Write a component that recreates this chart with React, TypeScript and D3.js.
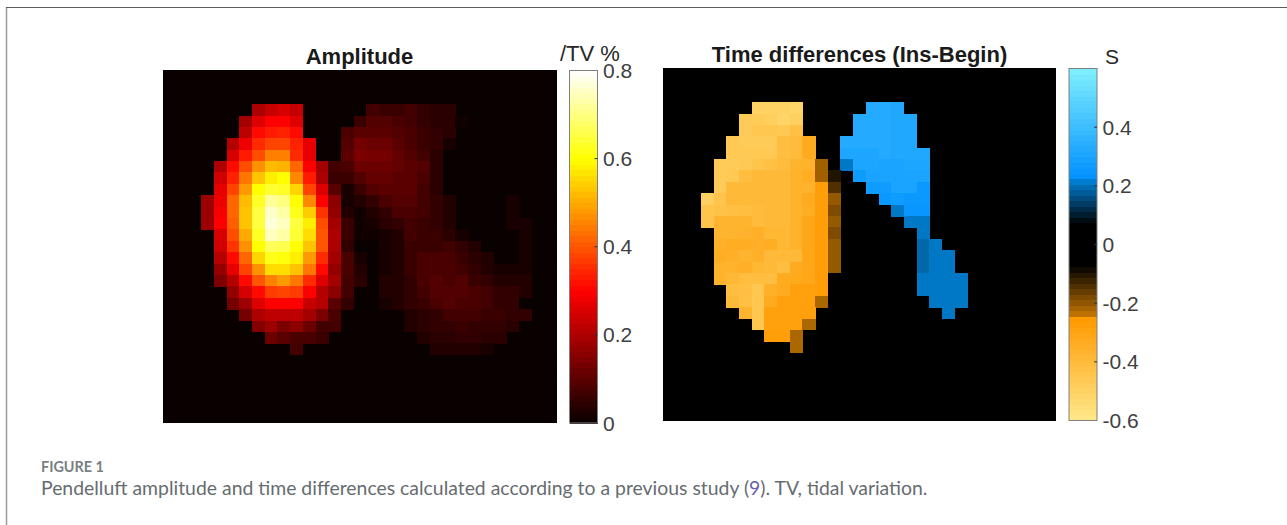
import React from 'react';
import * as d3 from 'd3';

// values, in hundredths; first number of a row is the column it starts at
const amplitudeRows: Record<number, number[]> = {
  3: [7, 20, 23, 25, 23, 0, 0, 0, 0, 0, 7, 6, 6, 7, 5, 4, 4],
  4: [6, 19, 26, 30, 30, 26, 0, 0, 0, 0, 6, 9, 9, 8, 7, 5, 4, 4, 1],
  5: [6, 22, 31, 33, 34, 31, 0, 0, 0, 8, 10, 10, 10, 9, 8, 6, 5, 4],
  6: [5, 21, 28, 35, 38, 38, 34, 27, 0, 0, 9, 13, 12, 12, 10, 8, 6, 5, 2],
  7: [5, 25, 33, 39, 45, 45, 35, 27, 0, 0, 10, 14, 13, 13, 11, 9, 7, 4],
  8: [4, 20, 31, 39, 47, 52, 51, 42, 30, 19, 7, 8, 12, 12, 12, 11, 10, 9, 4],
  9: [4, 24, 34, 44, 53, 58, 60, 46, 33, 20, 6, 6, 9, 11, 11, 10, 10, 8, 4],
  10: [4, 27, 38, 48, 60, 64, 63, 55, 38, 26, 10, 2, 6, 9, 10, 10, 10, 7, 4],
  11: [3, 18, 28, 42, 52, 63, 72, 70, 60, 46, 30, 16, 2, 3, 5, 8, 9, 9, 7, 5, 3, 0, 0, 0, 0, 2],
  12: [3, 18, 29, 42, 53, 65, 76, 73, 62, 54, 36, 17, 3, 1, 3, 5, 8, 8, 7, 5, 3, 0, 0, 0, 0, 2],
  13: [3, 18, 30, 41, 53, 65, 77, 75, 65, 58, 39, 19, 6, 1, 2, 4, 5, 7, 6, 5, 3, 0, 0, 0, 0, 2, 2],
  14: [4, 25, 39, 50, 63, 75, 73, 64, 56, 40, 20, 6, 1, 1, 2, 3, 7, 6, 6, 4, 2, 0, 0, 0, 0, 2],
  15: [4, 24, 36, 47, 60, 67, 66, 60, 53, 40, 20, 5, 0, 0, 2, 3, 6, 6, 6, 7, 5, 3, 0, 0, 0, 2],
  16: [4, 21, 31, 42, 55, 62, 61, 58, 48, 35, 19, 8, 2, 0, 2, 3, 6, 8, 8, 8, 6, 4, 3, 0, 0, 2],
  17: [4, 17, 27, 38, 47, 56, 56, 53, 44, 31, 17, 8, 3, 0, 2, 3, 6, 8, 8, 8, 7, 5, 3, 2, 2, 2],
  18: [4, 14, 21, 31, 40, 45, 48, 44, 35, 26, 19, 7, 4, 0, 3, 3, 5, 8, 9, 8, 9, 6, 5, 3, 3, 3],
  19: [5, 17, 25, 31, 37, 38, 37, 30, 21, 16, 7, 0, 0, 3, 3, 5, 7, 9, 9, 9, 8, 7, 5, 5, 3],
  20: [5, 13, 18, 26, 30, 30, 30, 23, 21, 10, 5, 0, 0, 2, 3, 5, 6, 8, 9, 8, 8, 7, 5, 5],
  21: [6, 13, 20, 22, 22, 22, 19, 14, 8, 0, 0, 0, 0, 0, 3, 4, 5, 7, 7, 7, 6, 6, 5, 5],
  22: [7, 15, 18, 14, 16, 12, 7, 7, 0, 0, 0, 0, 0, 3, 4, 5, 5, 6, 5, 5, 5, 4],
  23: [8, 12, 10, 8, 8, 6, 0, 0, 0, 0, 0, 0, 0, 3, 4, 4, 5, 5, 4, 4],
  24: [10, 7, 0, 0, 0, 0, 0, 0, 0, 0, 0, 0, 3, 3, 3, 3, 2],
};

const timeDiffRows: Record<number, number[]> = {
  3: [7, -50, -50, -50, -51, 0, 0, 0, 0, 0, 33, 33, 32],
  4: [6, -47, -47, -48, -51, -49, 0, 0, 0, 0, 33, 33, 33, 32, 32],
  5: [6, -47, -45, -45, -46, -42, 0, 0, 0, 0, 33, 33, 33, 32, 32],
  6: [5, -46, -47, -47, -47, -41, -40, -33, 0, 0, 33, 33, 33, 33, 32, 32],
  7: [5, -46, -46, -46, -46, -41, -40, -33, 0, 0, 31, 31, 31, 33, 32, 32, 32],
  8: [4, -47, -47, -46, -44, -42, -40, -37, -36, -21, 0, 21, 31, 31, 30, 30, 31, 31],
  9: [4, -47, -46, -41, -39, -39, -39, -36, -34, -21, -10, 0, 27, 30, 30, 30, 30, 30],
  10: [4, -47, -39, -39, -39, -39, -39, -36, -36, -27, -14, 0, 0, 27, 27, 30, 30, 26],
  11: [3, -49, -44, -39, -39, -39, -39, -39, -36, -33, -27, -20, 0, 0, 0, 26, 27, 26, 26],
  12: [3, -44, -43, -42, -41, -40, -39, -39, -36, -34, -27, -18, 0, 0, 0, 0, 21, 25, 25],
  13: [3, -44, -37, -37, -37, -40, -39, -39, -36, -31, -27, -20, 0, 0, 0, 0, 0, 21, 21],
  14: [4, -37, -37, -36, -35, -38, -38, -36, -31, -27, -18, 0, 0, 0, 0, 0, 0, 21],
  15: [4, -35, -34, -34, -35, -34, -38, -36, -31, -27, -20, 0, 0, 0, 0, 0, 0, 19, 21],
  16: [4, -34, -35, -37, -35, -39, -39, -39, -31, -27, -20, 0, 0, 0, 0, 0, 0, 19, 21, 21],
  17: [4, -36, -36, -35, -38, -39, -41, -33, -31, -27, -20, 0, 0, 0, 0, 0, 0, 19, 21, 21],
  18: [4, -36, -38, -41, -41, -41, -33, -32, -31, -27, 0, 0, 0, 0, 0, 0, 0, 21, 21, 21, 21],
  19: [5, -41, -42, -45, -35, -33, -28, -28, -27, 0, 0, 0, 0, 0, 0, 0, 21, 21, 21, 21],
  20: [5, -39, -42, -45, -33, -28, -28, -28, -22, 0, 0, 0, 0, 0, 0, 0, 0, 21, 21, 21],
  21: [6, -37, -45, -28, -28, -28, -28, 0, 0, 0, 0, 0, 0, 0, 0, 0, 0, 21],
  22: [7, -45, -28, -28, -28, -22],
  23: [8, -27, -27, -22],
  24: [10, -22],
};

const amplitudeTicks = [0, 0.2, 0.4, 0.6, 0.8];
const timeTicks = [-0.6, -0.4, -0.2, 0, 0.2, 0.4];

const hotStops = [0, 0.3, 0.6, 0.8];
const hotColors = ['#090000', '#ff0000', '#ffff00', '#ffffff'];
const timeStops = [-0.6, -0.25, -0.245, -0.07, 0.07, 0.215, 0.225, 0.6];
const timeColors = ['#ffe98c', '#ff9900', '#c87800', '#000000', '#000000', '#007ccc', '#0090ff', '#80f0ff'];

const gridIndex = d3.range(31);
const levels = d3.range(64);

const hot = d3.scaleLinear<string>().domain(hotStops).range(hotColors).clamp(true);
const timeColor = d3.scaleLinear<string>().domain(timeStops).range(timeColors).clamp(true);

const labelFont = '"Liberation Sans", Arial, sans-serif';
const captionFont = 'Lato, "Open Sans", sans-serif';

function Heatmap({ rows, x0, y0, width, height, color, background }: any) {
  const x = d3.scaleBand<number>().domain(gridIndex).range([x0, x0 + width]);
  const y = d3.scaleBand<number>().domain(gridIndex).range([y0, y0 + height]);
  return (
    <g shapeRendering="crispEdges">
      <rect x={x0} y={y0} width={width} height={height} fill={background} />
      {Object.keys(rows).map((r) => {
        const [start, ...vals] = rows[r];
        return vals.map((v: number, i: number) =>
          v === 0 ? null : (
            <rect
              key={r + '-' + i}
              x={x(start + i)}
              y={y(+r)}
              width={x.bandwidth() + 0.5}
              height={y.bandwidth() + 0.5}
              fill={color(v / 100)}
            />
          )
        );
      })}
    </g>
  );
}

function Colorbar({ x0, y0, width, height, domain, ticks, color, format }: any) {
  const y = d3.scaleLinear().domain(domain).range([y0 + height, y0]);
  const band = d3.scaleBand<number>().domain(levels).range([y0 + height, y0]);
  const step = (domain[1] - domain[0]) / levels.length;
  return (
    <g>
      <g shapeRendering="crispEdges">
        {levels.map((l) => (
          <rect
            key={l}
            x={x0}
            y={band(l)! - 0.5}
            width={width}
            height={band.bandwidth() + 1}
            fill={color(domain[0] + (l + 0.5) * step)}
          />
        ))}
      </g>
      <rect x={x0} y={y0} width={width} height={height} fill="none" stroke="#808080" strokeWidth={1} />
      {ticks.map((t: number) => (
        <g key={t}>
          {t !== domain[0] && t !== domain[1] && (
            <line x1={x0 + width - 3} x2={x0 + width} y1={y(t)} y2={y(t)} stroke="#303030" strokeWidth={1} />
          )}
          <text x={x0 + width + 5.5} y={y(t) + 7.5} fontFamily={labelFont} fontSize={21} fill="#404040">
            {format(t)}
          </text>
        </g>
      ))}
    </g>
  );
}

const App = () => {
  const fmt = (t: number) => (t === 0 ? '0' : String(t));
  return (
    <svg width={1287} height={525} style={{ position: 'absolute', left: 0, top: 0, background: '#fff' }}>
      {/* card frame, only the top and left edges are in the crop */}
      <line x1={6.5} x2={6.5} y1={7} y2={525} stroke="#9a9a9a" strokeWidth={1.5} />
      <line x1={6} x2={1287} y1={7.5} y2={7.5} stroke="#5c5c5c" strokeWidth={1.2} />

      <Heatmap rows={amplitudeRows} x0={163} y0={70} width={394} height={353} color={hot} background="#090000" />
      <Heatmap rows={timeDiffRows} x0={663} y0={68} width={393} height={353} color={timeColor} background="#000000" />

      <Colorbar x0={569.5} y0={70.5} width={28} height={352.5} domain={[0, 0.8]} ticks={amplitudeTicks} color={hot} format={fmt} />
      <Colorbar x0={1069} y0={68.5} width={28} height={352} domain={[-0.6, 0.6]} ticks={timeTicks} color={timeColor} format={fmt} />

      <text x={359.5} y={64} textAnchor="middle" fontFamily={labelFont} fontSize={22} fontWeight="bold" fill="#1a1a1a">Amplitude</text>
      <text x={859.5} y={62} textAnchor="middle" fontFamily={labelFont} fontSize={22} fontWeight="bold" fill="#1a1a1a">Time differences (Ins-Begin)</text>
      <text x={560} y={61} fontFamily={labelFont} fontSize={22} fill="#262626">/TV %</text>
      <text x={1105} y={64} fontFamily={labelFont} fontSize={21} fill="#262626">S</text>

      <text x={41} y={472} fontFamily={captionFont} fontSize={14.4} fontWeight="bold" fill="#7a7f83">FIGURE 1</text>
      <text x={41} y={495} fontFamily={captionFont} fontSize={19.4} fill="#666c70">
        Pendelluft amplitude and time differences calculated according to a previous study (<tspan fill="#6a5fa8">9</tspan>). TV, tidal variation.
      </text>
    </svg>
  );
};

export default App;
